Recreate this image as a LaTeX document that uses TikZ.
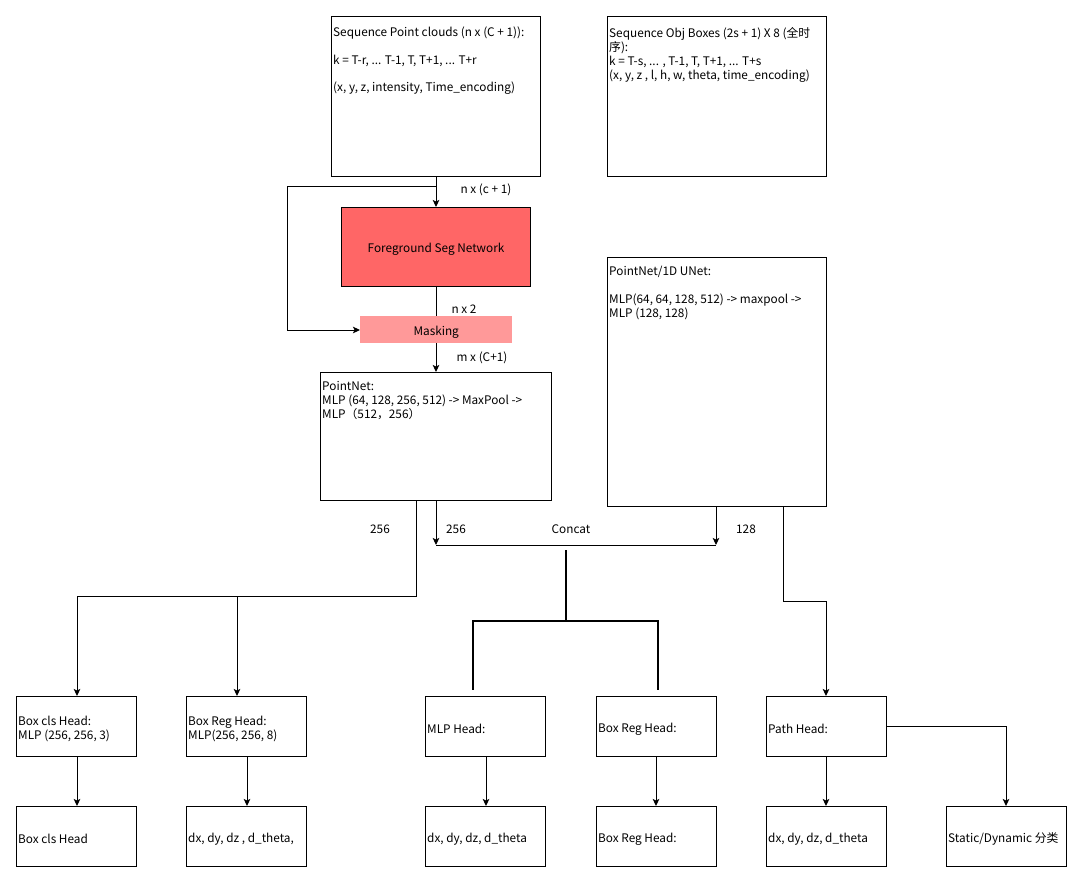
\documentclass[tikz,border=0pt]{standalone}
\usepackage{fontspec}
\setmainfont{Noto Sans CJK SC}
\usetikzlibrary{arrows.meta,calc}
\definecolor{segred}{HTML}{FF6666}
\definecolor{maskred}{HTML}{FF9999}
\tikzset{
  x=1pt,y=-1pt,
  every node/.style={font=\fontsize{11.8}{14}\selectfont, inner sep=0pt},
  box/.style={draw=black, line width=1pt, anchor=north west, fill=white},
  boxtxt/.style={anchor=north west, align=left},
  lbl/.style={anchor=center, yshift=-2.5pt},
  conn/.style={draw=black, line width=1pt},
  arr/.style={conn, -{Stealth[length=7pt,width=6.5pt,inset=1.5pt]}},
  thick conn/.style={draw=black, line width=2.3pt},
}
\newcommand{\headbox}[4]{% name, x, y, text
  \node[box, minimum width=120pt, minimum height=60pt] (#1) at (#2,#3) {};
  \node[anchor=west, align=left, yshift=-2.5pt] (#1t) at ($(#1.west)+(2,0)$) {#4};}
\begin{document}
\begin{tikzpicture}
\useasboundingbox (0,0) rectangle (1083,883);
\fill[white] (0,0) rectangle (1083,883);

% top boxes
\node[box, minimum width=209pt, minimum height=160pt] (spc) at (331,16) {};
\node[boxtxt] (spctxt) at (333,27) {Sequence Point clouds (n x (C + 1)):\\[13.5pt]k = T-r, ... T-1, T, T+1, ... T+r\\[13.5pt](x, y, z, intensity, Time\_encoding)};

\node[box, minimum width=219pt, minimum height=160pt] (sob) at (607,16) {};
\node[boxtxt] (sobtxt) at (609,27) {Sequence Obj Boxes (2s + 1) X 8 (全时\\序):\\k = T-s, ... , T-1, T, T+1, ... T+s\\(x, y, z , l, h, w, theta, time\_encoding)};

% seg network and masking
\node[box, fill=segred, minimum width=189pt, minimum height=79pt] (fsn) at (341,207) {};
\node[lbl] (fsntxt) at (fsn.center) {Foreground Seg Network};
\node[anchor=north west, fill=maskred, minimum width=152pt, minimum height=27pt] (mask) at (360,316) {};
\node[lbl] (masktxt) at (mask.center) {Masking};

% PointNet
\node[box, minimum width=231pt, minimum height=128pt] (pn) at (320,372) {};
\node[boxtxt] (pntxt) at (322,381) {PointNet:\\MLP (64, 128, 256, 512) -> MaxPool ->\\MLP（512，256）};

% UNet
\node[box, minimum width=219pt, minimum height=249pt] (un) at (607,257) {};
\node[boxtxt] (untxt) at (609,266) {PointNet/1D UNet:\\[14pt]MLP(64, 64, 128, 512) -> maxpool ->\\MLP (128, 128)};

% heads row 1
\headbox{h1}{16}{696}{Box cls Head:\\MLP (256, 256, 3)}
\headbox{h2}{186}{696}{Box Reg Head:\\MLP(256, 256, 8)}
\headbox{h3}{425}{696}{MLP Head:}
\headbox{h4}{596}{696}{Box Reg Head:}
\headbox{h5}{766}{696}{Path Head:}
% row 2
\headbox{o1}{16}{806}{Box cls Head}
\headbox{o2}{186}{806}{dx, dy, dz , d\_theta,}
\headbox{o3}{425}{806}{dx, dy, dz, d\_theta}
\headbox{o4}{596}{806}{Box Reg Head:}
\headbox{o5}{766}{806}{dx, dy, dz, d\_theta}
\headbox{o6}{946}{806}{Static/Dynamic 分类}

% coordinates
\coordinate (sp) at (436,186);
\coordinate (cc) at (436,545);
\coordinate (cr) at (716,545);
\coordinate (cm) at (566,545);

% connectors
\draw[arr] (spc.south -| sp) -- (fsn.north -| sp);
\draw[arr] (sp) -- (287,186) -- (287,330) -- (mask.west |- 0,330);
\draw[conn] (fsn.south -| sp) -- (mask.north -| sp);
\draw[arr] (mask.south -| sp) -- (pn.north -| sp);

\draw[conn] (416,500) -- (416,596) -- (77,596);
\draw[arr] (77,596) -- (h1.north -| 77,0);
\draw[arr] (237,596) -- (h2.north -| 237,0);

\draw[arr] (pn.south -| cc) -- (cc);
\draw[conn] (cc) -- (cr);
\draw[arr] (un.south -| cr) -- (cr);

\draw[thick conn] (566,550) -- (566,621);
\draw[thick conn] (473,621) -- (658,621);
\draw[thick conn] (473,620) -- (473,690);
\draw[thick conn] (658,620) -- (658,690);

\draw[conn] (un.south -| 783,0) -- (783,601) -- (826,601);
\draw[arr] (826,601) -- (h5.north -| 826,0);

\draw[arr] (h1.south -| 77,0) -- (o1.north -| 77,0);
\draw[arr] (h2.south -| 247,0) -- (o2.north -| 247,0);
\draw[arr] (h3.south -| 486,0) -- (o3.north -| 486,0);
\draw[arr] (h4.south -| 656,0) -- (o4.north -| 656,0);
\draw[arr] (h5.south -| 826,0) -- (o5.north -| 826,0);
\draw[arr] (h5.east |- 0,726) -- (1006,726) -- (o6.north -| 1006,0);

% labels
\node[lbl] (l1) at (486,187) {n x (c + 1)};
\node[lbl] (l2) at (464,307) {n x 2};
\node[lbl] (l3) at (482,355) {m x (C+1)};
\node[lbl] (l4) at (380,527) {256};
\node[lbl] (l5) at (456,527) {256};
\node[lbl] (l6) at (571,527) {Concat};
\node[lbl] (l7) at (746,527) {128};
\end{tikzpicture}
\end{document}
